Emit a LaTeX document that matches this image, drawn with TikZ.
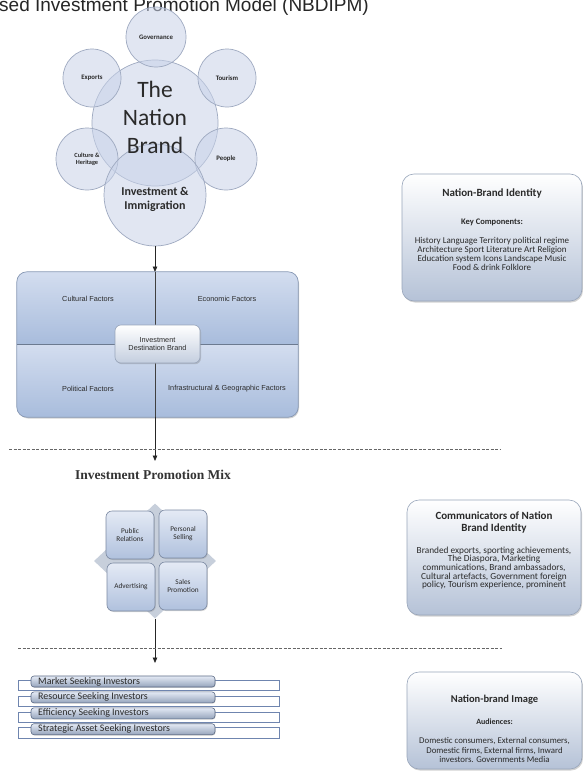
\documentclass[tikz,border=0pt]{standalone}
\usepackage{fontspec}
\setmainfont{Carlito}
\newfontfamily\arialf{Liberation Sans}
\newfontfamily\serifb{Liberation Serif}
\usetikzlibrary{arrows.meta,shadows,shapes.geometric}
\definecolor{circf}{HTML}{C9D3E9}
\definecolor{circd}{HTML}{9EA9C0}
\definecolor{boxbot}{HTML}{B5C2D7}
\definecolor{boxline}{HTML}{98A5BA}
\definecolor{fbt}{HTML}{D3DDEF}
\definecolor{fbb}{HTML}{A8BCDC}
\definecolor{fbline}{HTML}{8798B4}
\definecolor{dia}{HTML}{C7CFDB}
\definecolor{sqt}{HTML}{E4EAF5}
\definecolor{sqb}{HTML}{B0C1DD}
\definecolor{sqline}{HTML}{7B89A2}
\definecolor{barline}{HTML}{6F85AF}
\definecolor{barin}{HTML}{5C6B86}
\definecolor{txt}{HTML}{2A2A2A}
\tikzset{
  bub/.style={circle, draw=circd, line width=0.7pt, fill=circf, fill opacity=0.55, text opacity=1, inner sep=0pt, align=center, text=txt},
  clab/.style={font=\bfseries\fontsize{6.8}{7.5}\selectfont},
  arr/.style={draw=black!85, line width=0.8pt, -{Triangle[length=5.5pt,width=4.5pt]}},
  dline/.style={draw=black!60, line width=0.6pt, dash pattern=on 3pt off 1.5pt},
  rbox/.style={draw=boxline, line width=0.6pt, rounded corners=12pt, top color=white, bottom color=boxbot, drop shadow={opacity=0.35, shadow xshift=1pt, shadow yshift=-1.5pt}},
  sq/.style={draw=sqline, line width=0.6pt, rounded corners=6pt, top color=sqt, bottom color=sqb, minimum width=48pt, minimum height=48pt, inner sep=0pt, align=center, text=txt, font=\fontsize{7.3}{8}\selectfont, drop shadow={opacity=0.3, shadow xshift=0.8pt, shadow yshift=-1pt}},
  flab/.style={font=\arialf\fontsize{7.3}{8.6}\selectfont, text=txt, align=center, inner sep=0pt},
  outbar/.style={draw=barline, line width=0.6pt, fill=white},
  inbar/.style={draw=barin, line width=0.6pt, rounded corners=3pt, top color=sqt, bottom color=sqb!85!black, drop shadow={opacity=0.3, shadow xshift=0.6pt, shadow yshift=-0.8pt}},
  btxt/.style={font=\fontsize{10}{10}\selectfont, text=txt, anchor=west, inner sep=0pt},
  rtitle/.style={font=\bfseries\fontsize{11}{11.5}\selectfont, text=txt, align=center, inner sep=0pt},
  rsub/.style={font=\bfseries\fontsize{8.5}{9}\selectfont, text=txt, align=center, inner sep=0pt},
  rbody/.style={font=\fontsize{9}{8.8}\selectfont, text=txt, align=center, inner sep=0pt}
}
\begin{document}
\begin{tikzpicture}[x=1pt,y=-1pt]
\useasboundingbox (0,0) rectangle (583,771);
\clip (0,0) rectangle (583,771);
\fill[white] (0,0) rectangle (583,771);

% title
\node[anchor=base west, inner sep=0pt, font=\arialf\fontsize{19}{19}\selectfont, text=black!85] (title) at (-1,12) {sed Investment Promotion Model (NBDIPM)};

% nation brand bubbles
\node[bub, minimum size=126pt] (nb) at (155,123) {};
\node[bub, minimum size=60pt, clab] (gov) at (156,37) {Governance};
\node[bub, minimum size=58pt, clab] (exp) at (92,78) {Exports};
\node[bub, minimum size=58pt, clab] (tour) at (227,78) {Tourism};
\node[bub, minimum size=62pt, font=\bfseries\fontsize{6.3}{6.8}\selectfont] (cult) at (87,159) {Culture \&\\Heritage};
\node[bub, minimum size=62pt, clab] (peo) at (226,159) {People};
\node[bub, minimum size=102pt] (inv) at (155,195) {};
\node[align=center, inner sep=0pt, text=txt, font=\fontsize{23.5}{28}\selectfont] (nbt) at (155,117) {The\\Nation\\Brand};
\node[align=center, inner sep=0pt, text=txt, font=\bfseries\fontsize{12}{14}\selectfont] (invt) at (155,199) {Investment \&\\Immigration};

% factor box
\node[draw=none, fill=fbb, rounded corners=10pt, minimum width=281pt, minimum height=145pt, inner sep=0pt, drop shadow={opacity=0.35, shadow xshift=1pt, shadow yshift=-1.5pt}] (fb) at (157.5,344.5) {};
\begin{scope}
\clip[rounded corners=10pt] (fb.north west) rectangle (fb.south east);
\shade[top color=fbt, bottom color=fbb] (fb.north west) rectangle (fb.east);
\shade[top color=fbt, bottom color=fbb] (fb.west) rectangle (fb.south east);
\end{scope}
\draw[draw=fbline, line width=0.7pt, rounded corners=10pt] (fb.north west) rectangle (fb.south east);
\coordinate (vt) at (155,272);
\coordinate (vb) at (155,417);
\draw[draw=fbline!80!black, line width=0.7pt] (fb.west) -- (fb.east);
\draw[draw=black!75, line width=0.7pt] (vt) -- (vb);
\node[flab] (cf) at (88,299) {Cultural Factors};
\node[flab] (ef) at (227,299) {Economic Factors};
\node[flab] (pf) at (88,389) {Political Factors};
\node[flab] (igf) at (227,389) {Infrastructural \& Geographic Factors};
\node[draw=boxline, line width=0.6pt, rounded corners=6pt, top color=white, bottom color=boxbot!80, minimum width=85pt, minimum height=38pt, flab, drop shadow={opacity=0.35, shadow xshift=1pt, shadow yshift=-1.2pt}] (idb) at (157.5,344) {Investment\\Destination Brand};

\draw[arr] (inv.south) -- (vt);
\coordinate (a2) at (155,461);
\draw[arr] (vb) -- (a2);

% dashed line 1
\coordinate (d1a) at (9,449);
\coordinate (d1b) at (500,449);
\draw[dline] (d1a) -- (d1b);

\node[anchor=base west, inner sep=0pt, text=black!80, font=\serifb\bfseries\fontsize{13.5}{14}\selectfont] (ipm) at (75,479) {Investment Promotion Mix};

% promotion mix
\node[diamond, fill=dia, draw=none, minimum width=122pt, minimum height=115pt, inner sep=0pt] (dm) at (155,561) {};
\node[sq] (pr) at (130,535) {Public\\Relations};
\node[sq] (ps) at (183,534) {Personal\\Selling};
\node[sq] (adv) at (131,587) {Advertising};
\node[sq] (sp) at (183,586) {Sales\\Promotion};

\coordinate (a3) at (155,663);
\draw[arr] (dm.south) -- (a3);
\coordinate (d2a) at (18,648);
\coordinate (d2b) at (502,648);
\draw[dline] (d2a) -- (d2b);

% investor bars
\foreach \i/\t in {0/Market Seeking Investors,1/Resource Seeking Investors,2/Efficiency Seeking Investors,3/Strategic Asset Seeking Investors}{
  \pgfmathsetmacro{\yy}{676+15.9*\i}
  \draw[outbar] (18,\yy+4) rectangle (279,\yy+14.5);
  \draw[inbar] (31,\yy) rectangle (215,\yy+11);
  \node[btxt] (bar\i) at (38,\yy+5.4) {\t};
}

% right boxes
\draw[rbox] (402,174) rectangle (582,301);
\node[rtitle] (nbi) at (492,193) {Nation-Brand Identity};
\node[rsub] (kc) at (492,222) {Key Components:};
\node[rbody] (kcb) at (492,254) {History Language Territory political regime\\Architecture Sport Literature Art Religion\\Education system Icons Landscape Music\\Food \& drink Folklore};

\draw[rbox] (407,500) rectangle (581,615);
\node[rtitle] (cnb) at (494,522.5) {Communicators of Nation\\Brand Identity};
\node[rbody, font=\fontsize{9.3}{8.7}\selectfont] (cnbb) at (494,568) {Branded exports, sporting achievements,\\The Diaspora, Marketing\\communications, Brand ambassadors,\\Cultural artefacts, Government foreign\\policy, Tourism experience, prominent};

\draw[rbox] (407,672) rectangle (582,769);
\node[rtitle, font=\bfseries\fontsize{10.5}{11}\selectfont] (nbim) at (494.5,700) {Nation-brand Image};
\node[rsub, font=\bfseries\fontsize{8}{8.5}\selectfont] (aud) at (494.5,722) {Audiences:};
\node[rbody, font=\fontsize{8.8}{9.5}\selectfont] (audb) at (494.5,750) {Domestic consumers, External consumers,\\Domestic firms, External firms, Inward\\investors. Governments Media};
\end{tikzpicture}
\end{document}
